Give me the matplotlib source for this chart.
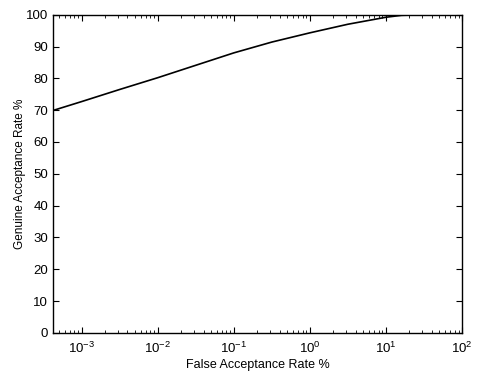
import matplotlib
matplotlib.use("Agg")
import matplotlib.pyplot as plt
import numpy as np
from matplotlib.ticker import LogLocator, MultipleLocator

plt.rcParams['font.family'] = ['Liberation Sans', 'DejaVu Sans']
plt.rcParams['mathtext.fontset'] = 'custom'
plt.rcParams['mathtext.rm'] = 'Liberation Sans'
plt.rcParams['mathtext.it'] = 'Liberation Sans'

# ROC curve: false acceptance rate (%) vs genuine acceptance rate (%)
far = [4.2e-4, 1e-3, 3.16e-3, 1e-2, 3.16e-2, 1e-1, 3.16e-1, 1e0, 3.16e0, 1e1, 1.6e1, 3e1, 1e2]
gar = [69.9, 72.7, 76.5, 80.2, 84.1, 88.0, 91.4, 94.3, 97.0, 99.2, 99.8, 100.0, 100.0]

fig = plt.figure(figsize=(4.79, 3.72), dpi=100)
ax = fig.add_axes([0.1106, 0.105, 0.854, 0.8555])

ax.plot(far, gar, color='black', linewidth=1.2)

ax.set_xscale('log')
ax.set_xlim(4.2e-4, 1e2)
ax.set_ylim(0, 100)
ax.yaxis.set_major_locator(MultipleLocator(10))
ax.xaxis.set_major_locator(LogLocator(base=10, numticks=10))
ax.xaxis.set_minor_locator(LogLocator(base=10, subs=np.arange(2, 10), numticks=20))

ax.tick_params(which='both', direction='in', top=True, right=True, labelsize=9.5)
ax.tick_params(which='major', length=4, width=0.8)
ax.tick_params(which='minor', length=2, width=0.6)
ax.tick_params(axis='x', which='major', pad=6)
for s in ax.spines.values():
    s.set_linewidth(1.0)

ax.set_xlabel('False Acceptance Rate %', fontsize=9, labelpad=2)
ax.set_ylabel('Genuine Acceptance Rate %', fontsize=8.5, labelpad=0)

fig.savefig('out.png', dpi=100, facecolor='white')
